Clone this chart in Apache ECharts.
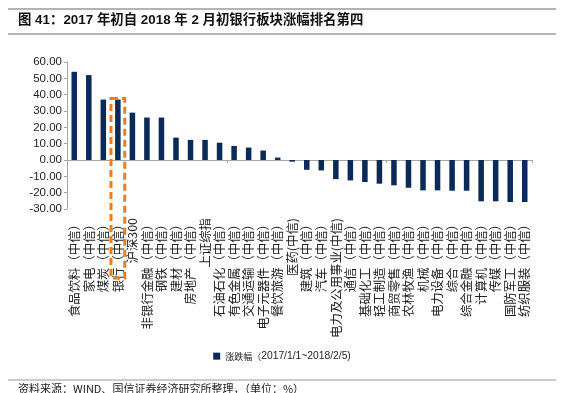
<!DOCTYPE html>
<html><head><meta charset="utf-8">
<script src="https://cdn.jsdelivr.net/npm/echarts@6/dist/echarts.min.js"></script>
<style>html,body{margin:0;padding:0;background:#fff}#c{width:564px;height:393px}</style>
</head><body><div id="c"></div>
<script>
const categories = ['食品饮料（中信）','家电（中信）','煤炭（中信）','银行（中信）','沪深300','非银行金融（中信）','钢铁（中信）','建材（中信）','房地产（中信）','上证综指','石油石化（中信）','有色金属（中信）','交通运输（中信）','电子元器件（中信）','餐饮旅游（中信）','医药(中信)','建筑（中信）','汽车（中信）','电力及公用事业(中信)','通信（中信）','基础化工（中信）','轻工制造（中信）','商贸零售（中信）','农林牧渔（中信）','机械（中信）','电力设备（中信）','综合（中信）','综合金融（中信）','计算机（中信）','传媒（中信）','国防军工（中信）','纺织服装（中信）'];
const values = [54.0,52.0,37.0,37.0,29.0,26.0,26.0,13.7,12.3,12.3,10.6,8.6,7.6,5.8,1.5,-1.0,-6.0,-6.4,-11.7,-12.5,-13.5,-14.5,-15.5,-17.0,-18.6,-18.6,-18.8,-18.8,-25.3,-25.3,-25.7,-25.7];
const yTicks = [-30,-20,-10,0,10,20,30,40,50,60];
const seriesName = '涨跌幅（2017/1/1~2018/2/5)';
const highlightCategory = '银行（中信）';
const titleText = '图 41：2017 年初自 2018 年 2 月初银行板块涨幅排名第四';
const sourceText = '资料来源：WIND、国信证券经济研究所整理，（单位：%）';

const chart = echarts.init(document.getElementById('c'), null, {renderer:'canvas'});
const font = '"Noto Sans CJK SC", "Liberation Sans", Arial, sans-serif';
const latinFirst = '"Liberation Sans", Arial, "Noto Sans CJK SC", sans-serif';
chart.setOption({
  animation:false,
  textStyle:{fontFamily:font},
  grid:{left:67, right:32, top:62, bottom:393-209, containLabel:false},
  legend:{data:[seriesName], top:346, left:'center', itemWidth:7, itemHeight:7, icon:'rect', itemGap:4,
    formatter:n=>'{c|'+n.slice(0,4)+'}'+n.slice(4),
    textStyle:{fontSize:10.3, color:'#222', fontFamily:latinFirst, rich:{c:{fontSize:9, fontFamily:font, color:'#222'}}}},
  xAxis:[
    {type:'category', data:categories, position:'bottom',
      axisLine:{onZero:true, lineStyle:{color:'#a6a6a6', width:1}},
      axisTick:{show:true, inside:false, length:3, lineStyle:{color:'#a6a6a6'}},
      axisLabel:{show:false}, splitLine:{show:false}},
    {type:'category', data:categories, position:'bottom',
      axisLine:{show:false, onZero:false}, axisTick:{show:false},
      axisLabel:{show:true, rotate:90, interval:0, fontSize:12.4, color:'#222', margin:9, fontFamily:font},
      splitLine:{show:false}}
  ],
  yAxis:{type:'value', min:yTicks[0], max:yTicks[yTicks.length-1], interval:10,
    axisLine:{show:true, lineStyle:{color:'#a6a6a6'}},
    axisTick:{show:true, length:3, lineStyle:{color:'#a6a6a6'}},
    splitLine:{show:false},
    axisLabel:{formatter:v=>v.toFixed(2), fontSize:11.5, color:'#222', margin:5, fontFamily:latinFirst}},
  series:[{name:seriesName, type:'bar', data:values, barWidth:'38%', xAxisIndex:0, yAxisIndex:0,
    itemStyle:{color:'#0b2a57'}}],
  graphic:[
    {type:'line', shape:{x1:8,y1:9,x2:556,y2:9}, style:{stroke:'#9a9a9a', lineWidth:1.5}},
    {type:'line', shape:{x1:8,y1:34,x2:556,y2:34}, style:{stroke:'#9a9a9a', lineWidth:1.5}},
    {type:'text', left:18, top:14, style:{text:titleText, font:'bold 13.4px '+latinFirst, fill:'#111'}},
    {type:'line', shape:{x1:8,y1:380,x2:556,y2:380}, style:{stroke:'#9a9a9a', lineWidth:1}},
    {type:'text', left:18, top:383, style:{text:sourceText, font:'11px '+font, fill:'#222'}}
  ]
});
const idx = categories.indexOf(highlightCategory);
const p = chart.convertToPixel({xAxisIndex:0, yAxisIndex:0}, [idx, values[idx]]);
const p2 = chart.convertToPixel({xAxisIndex:0, yAxisIndex:0}, [idx+1, values[idx]]);
const w = (p2[0]-p[0]) * 0.95;
chart.setOption({graphic:[{type:'rect', id:'hl', shape:{x:p[0]-w/2, y:p[1]-1, width:w, height:278-(p[1]-1)},
  style:{fill:'none', stroke:'#ee7d1c', lineWidth:3, lineDash:[7,4]}, z:100}]});
</script></body></html>
